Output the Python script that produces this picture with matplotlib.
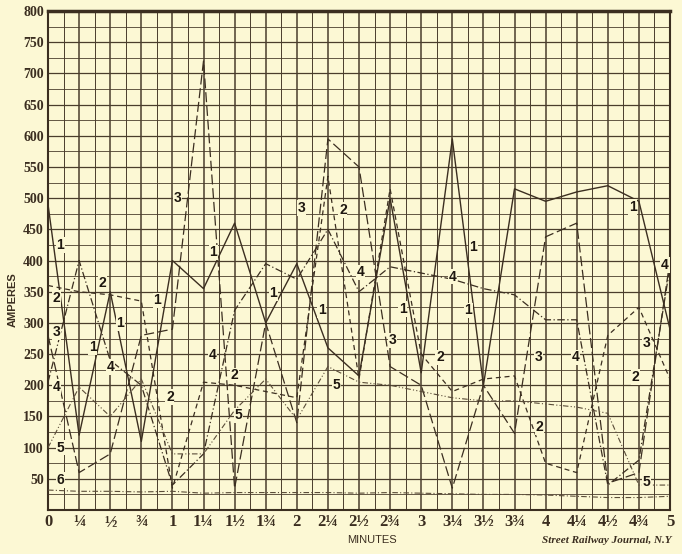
import matplotlib
matplotlib.use("Agg")
import matplotlib.pyplot as plt
import numpy as np

# quarter-minute readings, amperes
minutes = np.arange(0, 5.01, 0.25)
car1 = [490, 120, 350, 110, 400, 355, 460, 300, 395, 260, 215, 500, 220, 595, 200, 515, 495, 510, 520, 495, 290]
car2 = [360, 350, 345, 335, 35, 205, 200, 190, 180, 535, 210, 515, 250, 190, 210, 215, 75, 60, 280, 325, 210]
car3 = [280, 60, 90, 280, 290, 720, 35, 300, 140, 595, 550, 230, 200, 35, 200, 123, 438, 460, 43, 60, 400]
car4 = [205, 400, 240, 200, 40, 90, 320, 395, 370, 450, 350, 390, 380, 370, 355, 345, 305, 305, 40, 80, 390]
car5 = [100, 197, 150, 210, 90, 90, 160, 210, 145, 230, 205, 200, 190, 180, 175, 175, 170, 165, 155, 40, 40]
car6 = [32, 30, 30, 29, 30, 27, 28, 28, 28, 28, 27, 28, 27, 26, 25, 25, 24, 22, 20, 20, 22]

xtick_labels = ["0", "¼", "½", "¾", "1", "1¼", "1½", "1¾", "2", "2¼", "2½", "2¾",
                "3", "3¼", "3½", "3¾", "4", "4¼", "4½", "4¾", "5"]

# curve numbers written on the chart
tag_text = ["2", "3", "4", "5", "6", "1", "2", "1", "1", "4", "1", "2", "3", "1",
            "4", "2", "5", "1", "1", "3", "2", "4", "5", "1", "3", "4", "1", "1", "2",
            "3", "4", "2", "1", "2", "3", "4", "5"]
tag_x = [0.04, 0.04, 0.04, 0.07, 0.07, 0.10, 0.44, 0.36, 0.58, 0.50, 0.88, 0.98, 1.04, 1.33,
         1.32, 1.50, 1.53, 1.81, 2.20, 2.04, 2.37, 2.51, 2.32, 2.85, 2.77, 3.25, 3.38, 3.42, 3.15,
         3.94, 4.24, 3.95, 4.70, 4.72, 4.81, 4.96, 4.81]
tag_y = [340, 285, 197, 100, 48, 425, 364, 261, 300, 229, 336, 181, 500, 413,
         248, 216, 152, 348, 320, 484, 481, 381, 200, 322, 272, 374, 320, 421, 245,
         245, 245, 133, 486, 213, 268, 393, 45]

bg = "#fcf8d4"
ink = "#3b2e20"

fig = plt.figure(figsize=(6.82, 5.54), dpi=100, facecolor=bg)
ax = fig.add_axes([0.0704, 0.0794, 0.9120, 0.9006])
ax.set_facecolor(bg)

for v in np.arange(0, 5.01, 0.125):
    ax.axvline(v, color="#4a3d2c", lw=1.1 if v % 0.25 == 0 else 0.7, zorder=1)
for h in np.arange(0, 801, 25):
    ax.axhline(h, color="#4a3d2c", lw=0.9 if h % 50 == 0 else 0.6, zorder=1)

ax.plot(minutes, car1, color=ink, lw=1.0, zorder=3)
ax.plot(minutes, car2, color=ink, lw=0.9, dashes=(4, 3), zorder=3)
ax.plot(minutes, car3, color=ink, lw=0.9, dashes=(8, 3), zorder=3)
ax.plot(minutes, car4, color=ink, lw=0.9, dashes=(6, 2, 1, 2), zorder=3)
ax.plot(minutes, car5, color="#5a4c38", lw=0.8, dashes=(5, 2, 1, 2, 1, 2), zorder=3)
ax.plot(minutes, car6, color="#5a4c38", lw=0.8, dashes=(5, 2, 1, 2), zorder=3)

for t, x, y in zip(tag_text, tag_x, tag_y):
    ax.text(x, y, t, fontsize=10, fontweight="bold", family="Liberation Sans",
            color="#1e1710", ha="left" if x < 0.1 else "center", va="center", zorder=4,
            bbox=dict(boxstyle="square,pad=0.05", fc=bg, ec="none"))

ax.set_xlim(0, 5)
ax.set_ylim(0, 800)
ax.set_xticks(minutes)
ax.set_xticklabels(xtick_labels, family="Liberation Serif", fontsize=12, fontweight="bold", color=ink)
ax.set_yticks(np.arange(50, 801, 50))
ax.set_yticklabels([str(v) for v in range(50, 801, 50)], family="Liberation Serif",
                   fontsize=10, fontweight="bold", color=ink)
ax.tick_params(length=0, pad=3)
for s in ax.spines.values():
    s.set_color(ink)
    s.set_linewidth(1.5)
ax.spines["top"].set_linewidth(2.5)

fig.text(0.018, 0.46, "AMPERES", rotation=90, fontsize=8, fontweight="bold", family="Liberation Sans",
         color=ink, ha="center", va="center")
fig.text(0.545, 0.025, "MINUTES", fontsize=8, family="Liberation Sans",
         color=ink, ha="center", va="center")
fig.text(0.985, 0.024, "Street Railway Journal, N.Y", fontsize=8, family="Liberation Serif",
         style="italic", fontweight="bold", color=ink, ha="right", va="center")

fig.savefig("out.png", dpi=100, facecolor=bg)
